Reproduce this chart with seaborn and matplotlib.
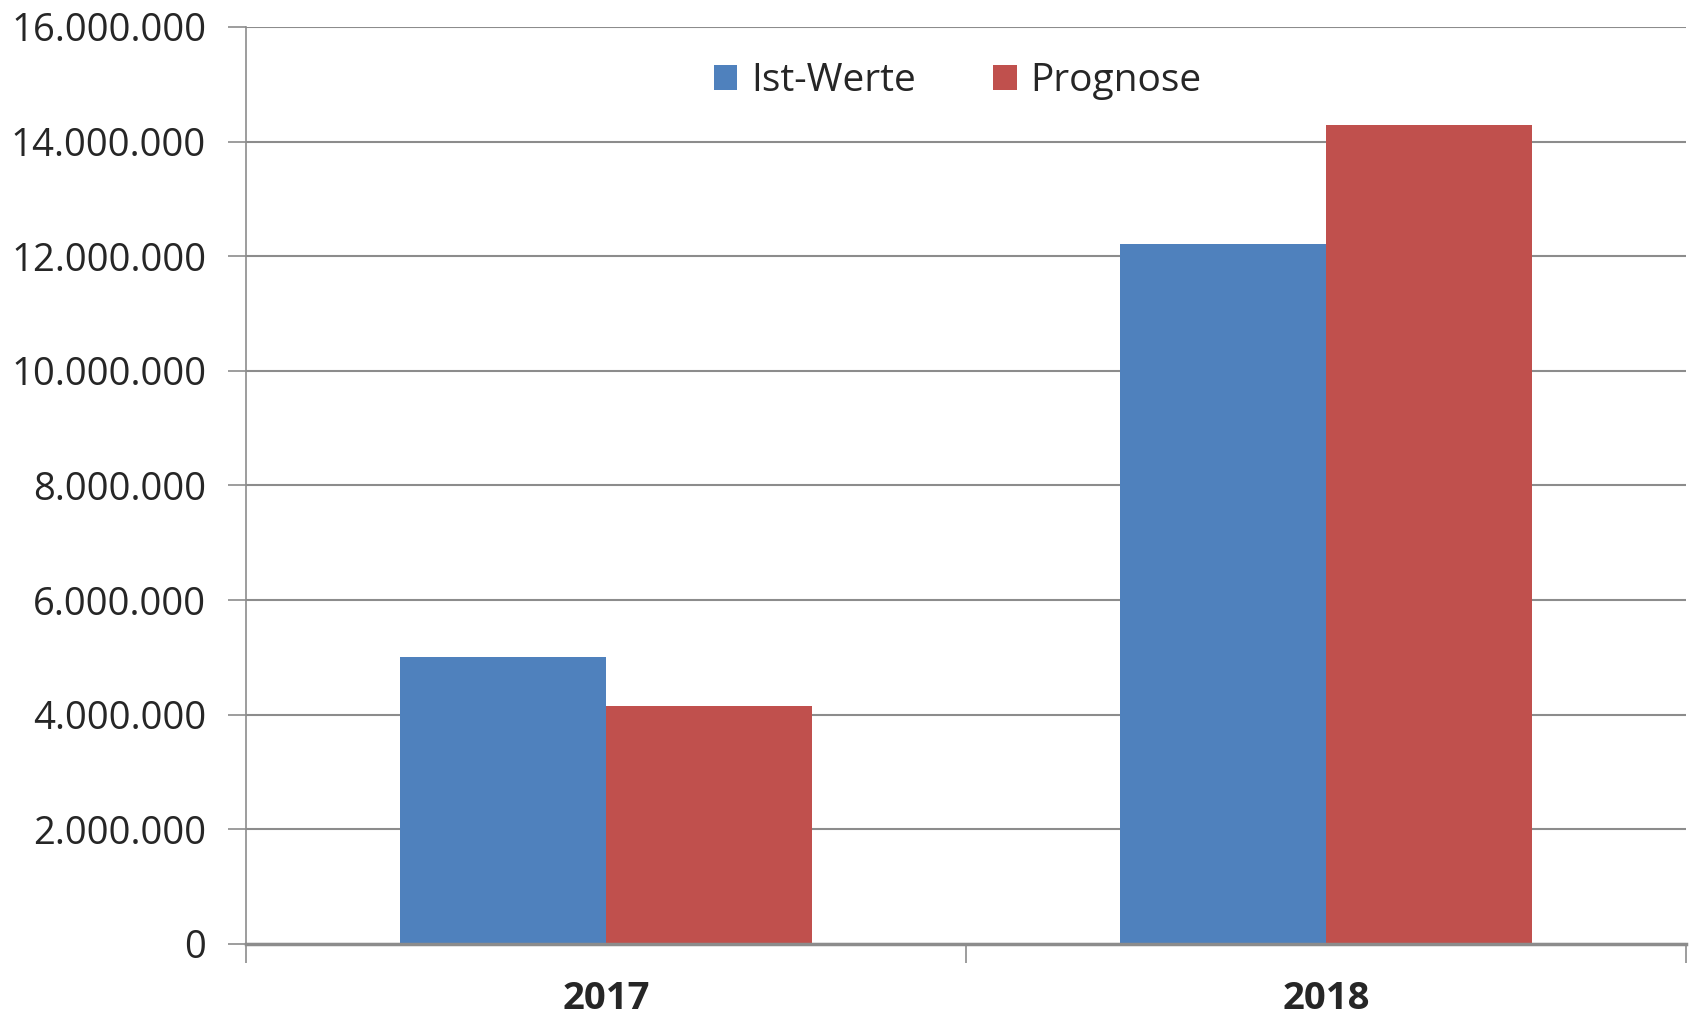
import numpy as np
import pandas as pd
import seaborn as sns
import matplotlib.pyplot as plt
from matplotlib.ticker import FuncFormatter, FixedLocator

# Data
years = ['2017', '2018']
series = ['Ist-Werte', 'Prognose']
ist_werte = [5000000, 12210000]
prognose = [4150000, 14290000]
colors = ['#4F81BD', '#C0504D']

df = pd.DataFrame({
    'Jahr': years * 2,
    'Serie': [series[0]] * 2 + [series[1]] * 2,
    'Wert': ist_werte + prognose,
})

sns.set_style('white')
plt.rcParams['font.family'] = ['Open Sans', 'DejaVu Sans']

fig = plt.figure(figsize=(16.95, 10.18), dpi=100)
ax = fig.add_axes([0.1454, 0.0727, 0.8493, 0.9008])

sns.barplot(data=df, x='Jahr', y='Wert', hue='Serie', order=years, hue_order=series,
            palette=colors, width=0.572, gap=0, linewidth=0, saturation=1, ax=ax)

# Axes styling
ax.set_ylim(0, 16000000)
ax.set_xlim(-0.5, 1.5)
ax.set_yticks(np.arange(0, 16000001, 2000000))
ax.yaxis.set_major_formatter(FuncFormatter(lambda v, p: f'{v:,.0f}'.replace(',', '.')))
ax.yaxis.grid(True, color='#8c8c8c', linewidth=1.5)
ax.set_axisbelow(True)
ax.set_xlabel('')
ax.set_ylabel('')

for s in ['top', 'right']:
    ax.spines[s].set_visible(False)
ax.spines['left'].set_color('#8c8c8c')
ax.spines['left'].set_linewidth(1.2)
ax.spines['bottom'].set_color('#8c8c8c')
ax.spines['bottom'].set_linewidth(2.5)

ax.tick_params(axis='y', which='major', length=13, width=1.2, color='#8c8c8c',
               labelsize=27.5, pad=16, left=True)
ax.tick_params(axis='x', which='major', length=0, labelsize=27.5, pad=26, bottom=True)
ax.xaxis.set_minor_locator(FixedLocator([-0.5, 0.5, 1.5]))
ax.tick_params(axis='x', which='minor', length=14, width=1.2, color='#8c8c8c', bottom=True)
for lbl in ax.get_xticklabels():
    lbl.set_fontweight('bold')

# Legend at top center
handles, labels = ax.get_legend_handles_labels()
ax.legend(handles, labels, loc='upper center', bbox_to_anchor=(0.494, 1.0), ncol=2,
          frameon=False, fontsize=28, handlelength=0.6, handleheight=0.6,
          handletextpad=0.35, columnspacing=2.0)

fig.savefig('out.png', dpi=100)
